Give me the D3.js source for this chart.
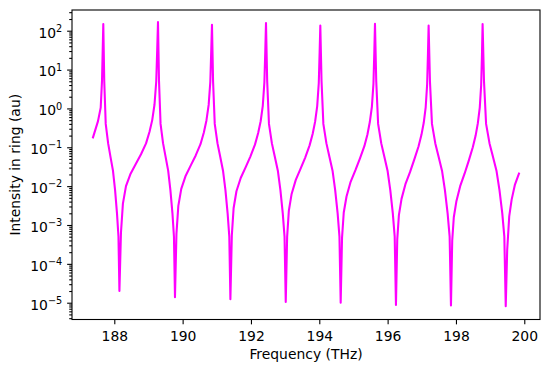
<!DOCTYPE html>
<html><head><meta charset="utf-8">
<script src="https://cdn.jsdelivr.net/npm/d3@7/dist/d3.min.js"></script>
<style>
html,body{margin:0;padding:0;background:#fff;}
svg{display:block;}
text{font-family:"DejaVu Sans",sans-serif;fill:#000;}
</style>
</head><body>
<svg id="chart" width="550" height="372"></svg>
<script>
// Frequency samples (THz)
const frequency = [
  187.377,187.523,187.602,187.640,187.678,
  187.706,187.749,187.820,187.890,187.961,188.023,188.079,188.122,188.150,
  188.195,188.252,188.342,188.477,188.636,188.782,188.929,189.031,189.110,189.177,189.228,189.256,189.279,
  189.309,189.354,189.428,189.503,189.577,189.642,189.702,189.746,189.776,
  189.819,189.874,189.960,190.090,190.242,190.383,190.523,190.621,190.697,190.762,190.810,190.837,190.859,
  190.891,190.940,191.021,191.102,191.182,191.253,191.317,191.366,191.398,
  191.440,191.492,191.575,191.700,191.846,191.982,192.117,192.211,192.284,192.346,192.393,192.419,192.440,
  192.475,192.527,192.613,192.700,192.787,192.862,192.931,192.983,193.018,
  193.059,193.109,193.190,193.312,193.453,193.585,193.716,193.807,193.878,193.939,193.985,194.010,194.030,
  194.066,194.119,194.209,194.298,194.388,194.465,194.537,194.590,194.626,
  194.666,194.716,194.797,194.917,195.058,195.188,195.319,195.409,195.479,195.540,195.585,195.610,195.630,
  195.667,195.722,195.814,195.906,195.998,196.078,196.152,196.207,196.244,
  196.282,196.330,196.407,196.521,196.655,196.779,196.904,196.990,197.057,197.114,197.157,197.181,197.200,
  197.239,197.298,197.396,197.494,197.592,197.677,197.756,197.815,197.854,
  197.891,197.937,198.011,198.123,198.252,198.373,198.493,198.576,198.641,198.697,198.738,198.762,198.780,
  198.821,198.882,198.983,199.085,199.186,199.274,199.356,199.416,199.457,
  199.500,199.559,199.630,199.727,199.844
];
// Intensity in ring (au) at those samples
const intensity = [
  0.18,0.47,1.05,5.1,148,
  5.0,0.40,0.126,0.056,0.025,0.0079,0.0020,5.0e-4,2.0e-5,
  6.3e-4,3.55e-3,0.0100,0.0209,0.038,0.066,0.126,0.251,0.50,1.26,5.0,31.6,166,
  5.0,0.40,0.126,0.056,0.025,0.0079,0.0020,5.0e-4,1.38e-5,
  5.9e-4,3.1e-3,8.5e-3,0.0186,0.0347,0.0617,0.120,0.240,0.49,1.23,4.8,30.2,143,
  5.0,0.40,0.126,0.056,0.025,0.0079,0.0020,5.0e-4,1.23e-5,
  5.4e-4,2.7e-3,7.4e-3,0.0162,0.0309,0.0575,0.117,0.234,0.468,1.17,4.7,29.5,158,
  5.0,0.40,0.126,0.056,0.025,0.0079,0.0020,5.0e-4,1.05e-5,
  5.0e-4,2.34e-3,6.3e-3,0.0145,0.0282,0.0537,0.112,0.224,0.457,1.15,4.5,28.2,135,
  5.0,0.40,0.126,0.056,0.025,0.0079,0.0020,5.0e-4,1.0e-5,
  4.7e-4,2.1e-3,5.4e-3,0.0129,0.0257,0.0513,0.107,0.214,0.447,1.12,4.3,26.9,151,
  5.0,0.40,0.126,0.056,0.025,0.0079,0.0020,5.0e-4,8.7e-6,
  4.3e-4,1.8e-3,4.7e-3,0.0112,0.0229,0.0479,0.105,0.209,0.427,1.07,4.2,26.3,135,
  5.0,0.40,0.126,0.056,0.025,0.0079,0.0020,5.0e-4,8.5e-6,
  4.0e-4,1.58e-3,4.0e-3,0.0100,0.0209,0.0447,0.100,0.200,0.417,1.05,4.0,25.1,148,
  5.0,0.40,0.126,0.056,0.025,0.0079,0.0020,5.0e-4,8.1e-6,
  2.3e-4,1.66e-3,4.5e-3,0.011,0.021
];
const xTickValues = [188,190,192,194,196,198,200];
const yTickExponents = [-5,-4,-3,-2,-1,0,1,2];
const xLabel = "Frequency (THz)";
const yLabel = "Intensity in ring (au)";

const plot = {left:72, right:540, top:10, bottom:319.5};
const x = d3.scaleLinear().domain([186.762, 200.46]).range([plot.left, plot.right]);
const y = d3.scaleLog().domain([Math.pow(10,-5.432), Math.pow(10,2.533)]).range([plot.bottom, plot.top]);

const svg = d3.select("#chart");
const FS = 13.9;
const majorLen = 4.86, minorLen = 2.78, tickW = 1.1;

// data line
const line = d3.line().x((d,i)=>x(frequency[i])).y((d,i)=>y(intensity[i]));
svg.append("path")
  .attr("d", line(frequency))
  .attr("fill","none")
  .attr("stroke","#ff00ff")
  .attr("stroke-width",2.08)
  .attr("stroke-linejoin","round")
  .attr("stroke-linecap","square");

// x axis
const gx = svg.append("g").attr("transform",`translate(0,${plot.bottom})`)
  .call(d3.axisBottom(x).tickValues(xTickValues).tickSize(majorLen).tickFormat(d3.format("d")));
gx.select(".domain").remove();
gx.selectAll(".tick line").attr("stroke","#000").attr("stroke-width",tickW);
gx.selectAll(".tick text").attr("y",21.3).attr("dy",0)
  .style("font-family","'DejaVu Sans',sans-serif").style("font-size",FS+"px").attr("fill","#000");

// y axis major
const yMajor = yTickExponents.map(e=>Math.pow(10,e));
const gy = svg.append("g").attr("transform",`translate(${plot.left},0)`)
  .call(d3.axisLeft(y).tickValues(yMajor).tickSize(majorLen).tickFormat(""));
gy.select(".domain").remove();
gy.selectAll(".tick line").attr("stroke","#000").attr("stroke-width",tickW);
gy.selectAll(".tick text").each(function(d,i){
  const t = d3.select(this);
  const e = yTickExponents[i];
  t.text(null).attr("x",-(majorLen+4.9)).attr("dy",0).attr("y",6.3)
   .attr("text-anchor","end")
   .style("font-family","'DejaVu Sans',sans-serif").style("font-size",FS+"px").attr("fill","#000");
  t.append("tspan").text("10");
  t.append("tspan").attr("dy",-5.6).style("font-size",(FS*0.7)+"px")
   .text(e<0 ? "\u2212"+Math.abs(e) : String(e));
});

// y axis minor
const minor = [];
for (let e=-6; e<=2; e++) for (let m=2; m<=9; m++) {
  const v = m*Math.pow(10,e);
  const [lo,hi] = y.domain();
  if (v>=lo && v<=hi) minor.push(v);
}
const gym = svg.append("g").attr("transform",`translate(${plot.left},0)`)
  .call(d3.axisLeft(y).tickValues(minor).tickSize(minorLen).tickFormat(""));
gym.select(".domain").remove();
gym.selectAll(".tick line").attr("stroke","#000").attr("stroke-width",tickW);

// spines
svg.append("rect").attr("x",plot.left).attr("y",plot.top)
  .attr("width",plot.right-plot.left).attr("height",plot.bottom-plot.top)
  .attr("fill","none").attr("stroke","#000").attr("stroke-width",1.1);

// labels
svg.append("text").attr("x",(plot.left+plot.right)/2).attr("y",358.6)
  .attr("text-anchor","middle").style("font-size",FS+"px").text(xLabel);
svg.append("text").attr("transform",`translate(20.2,${(plot.top+plot.bottom)/2}) rotate(-90)`)
  .attr("text-anchor","middle").style("font-size",FS+"px").text(yLabel);
</script>
</body></html>
